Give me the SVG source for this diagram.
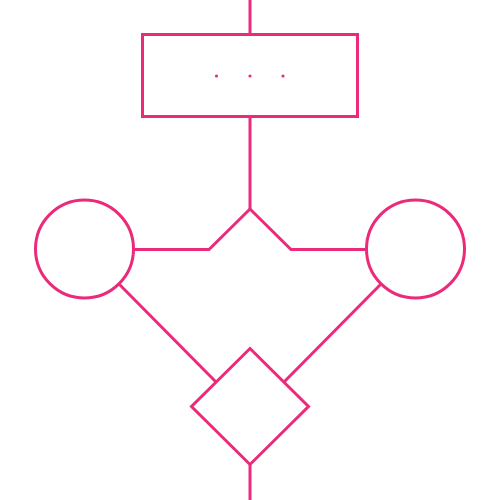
<svg xmlns="http://www.w3.org/2000/svg" width="500" height="500" viewBox="0 0 500 500">
<style>
.s{fill:none;stroke:#EC2A7A;stroke-width:3;stroke-linejoin:miter}
.d{fill:#EC2A7A}
</style>
<rect width="500" height="500" fill="#fff"/>
<g id="connectors">
<path class="s" d="M250,0V34"/>
<path class="s" d="M250,117V209"/>
<path class="s" d="M134,249.5H209L250,209L291,249.5H366"/>
<path class="s" d="M119.5,284.5L216,382"/>
<path class="s" d="M380.5,284.5L284,382"/>
<path class="s" d="M250,465V500"/>
</g>
<g id="process">
<rect class="s" x="142.5" y="34.5" width="215" height="82"/>
<circle class="d" cx="216.5" cy="76" r="1.6"/>
<circle class="d" cx="250" cy="76" r="1.6"/>
<circle class="d" cx="283" cy="76" r="1.6"/>
</g>
<g id="circle-left"><circle class="s" cx="84.5" cy="249" r="49"/></g>
<g id="circle-right"><circle class="s" cx="415.5" cy="249" r="49"/></g>
<g id="decision"><path class="s" d="M250,348.5L308.5,406.5L250,464.5L191.5,406.5Z"/></g>
</svg>
